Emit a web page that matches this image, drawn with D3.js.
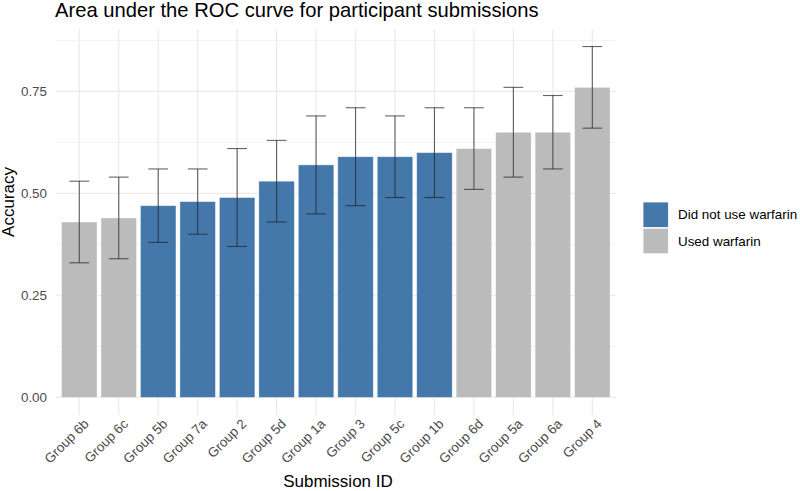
<!DOCTYPE html>
<html>
<head>
<meta charset="utf-8">
<script src="https://cdn.jsdelivr.net/npm/d3@7"></script>
<style>
  body { margin: 0; background: #fff; }
  text { font-family: "Liberation Sans", Arial, Helvetica, sans-serif; }
</style>
</head>
<body>
<svg id="chart" width="800" height="491"></svg>
<script>
const categories = ["Group 6b","Group 6c","Group 5b","Group 7a","Group 2","Group 5d","Group 1a","Group 3","Group 5c","Group 1b","Group 6d","Group 5a","Group 6a","Group 4"];
const accuracy   = [0.43, 0.44, 0.47, 0.48, 0.49, 0.53, 0.57, 0.59, 0.59, 0.60, 0.61, 0.65, 0.65, 0.76];
const lower      = [0.33, 0.34, 0.38, 0.40, 0.37, 0.43, 0.45, 0.47, 0.49, 0.49, 0.51, 0.54, 0.56, 0.66];
const upper      = [0.53, 0.54, 0.56, 0.56, 0.61, 0.63, 0.69, 0.71, 0.69, 0.71, 0.71, 0.76, 0.74, 0.86];
const warfarin   = ["Used warfarin","Used warfarin","Did not use warfarin","Did not use warfarin","Did not use warfarin","Did not use warfarin","Did not use warfarin","Did not use warfarin","Did not use warfarin","Did not use warfarin","Used warfarin","Used warfarin","Used warfarin","Used warfarin"];
const legendLabels = ["Did not use warfarin","Used warfarin"];
const legendColors = ["#4477AA","#BBBBBB"];
const yTicks = [0, 0.25, 0.5, 0.75];
const yMinor = [0.125, 0.375, 0.625, 0.875];

const data = categories.map((c,i)=>({cat:c, v:accuracy[i], lo:lower[i], hi:upper[i], g:warfarin[i]}));

const svg = d3.select("#chart");
const P = {left: 55.6, right: 616, top: 29, bottom: 415};

const yMax = d3.max(upper);
const pad = yMax * 0.05;
const y = d3.scaleLinear().domain([-pad, yMax + pad]).range([P.bottom, P.top]);
const step = (P.right - P.left) / (categories.length - 1 + 1.2);
const xc = d3.scalePoint().domain(categories).range([P.left + 0.6*step, P.right - 0.6*step]);
const barW = 0.9 * step;
const capW = 0.5 * step;
const color = d3.scaleOrdinal().domain(legendLabels).range(legendColors);

// grid
const g = svg.append("g");
g.selectAll(".ymin").data(yMinor).join("line")
  .attr("x1", P.left).attr("x2", P.right).attr("y1", d=>y(d)).attr("y2", d=>y(d))
  .attr("stroke", "#EDEDED").attr("stroke-width", 0.7);
g.selectAll(".ymaj").data(yTicks).join("line")
  .attr("x1", P.left).attr("x2", P.right).attr("y1", d=>y(d)).attr("y2", d=>y(d))
  .attr("stroke", "#EBEBEB").attr("stroke-width", 1.3);
g.selectAll(".xmaj").data(categories).join("line")
  .attr("x1", d=>xc(d)).attr("x2", d=>xc(d)).attr("y1", P.top).attr("y2", P.bottom)
  .attr("stroke", "#EBEBEB").attr("stroke-width", 1.3);

// bars
svg.append("g").selectAll("rect").data(data).join("rect")
  .attr("x", d=>xc(d.cat) - barW/2).attr("width", barW)
  .attr("y", d=>y(d.v)).attr("height", d=>y(0) - y(d.v))
  .attr("fill", d=>color(d.g))
  .attr("stroke", "#ffffff").attr("stroke-opacity", 0.5).attr("stroke-width", 0.8);

// error bars
const eb = svg.append("g").attr("stroke", "#222").attr("stroke-opacity", 0.7).attr("stroke-width", 1.1).attr("fill","none");
eb.selectAll(".v").data(data).join("line")
  .attr("x1", d=>xc(d.cat)).attr("x2", d=>xc(d.cat)).attr("y1", d=>y(d.lo)).attr("y2", d=>y(d.hi));
eb.selectAll(".lo").data(data).join("line")
  .attr("x1", d=>xc(d.cat)-capW/2).attr("x2", d=>xc(d.cat)+capW/2).attr("y1", d=>y(d.lo)).attr("y2", d=>y(d.lo));
eb.selectAll(".hi").data(data).join("line")
  .attr("x1", d=>xc(d.cat)-capW/2).attr("x2", d=>xc(d.cat)+capW/2).attr("y1", d=>y(d.hi)).attr("y2", d=>y(d.hi));

// y axis (labels only)
const yAxis = svg.append("g").attr("transform", `translate(${P.left},0)`)
  .call(d3.axisLeft(y).tickValues(yTicks).tickFormat(d3.format(".2f")).tickSize(0).tickPadding(8.6));
yAxis.select(".domain").remove();
yAxis.selectAll("text").attr("font-size", 13.4).attr("fill", "#4D4D4D")
  .attr("font-family", '"Liberation Sans", Arial, sans-serif');

// x axis (labels only)
const xAxis = svg.append("g").attr("transform", `translate(0,${P.bottom})`)
  .call(d3.axisBottom(xc).tickSize(0));
xAxis.select(".domain").remove();
xAxis.selectAll("text")
  .attr("font-size", 13.4).attr("fill", "#4D4D4D")
  .attr("font-family", '"Liberation Sans", Arial, sans-serif')
  .attr("text-anchor", "end")
  .attr("y", 0).attr("dy", "0.7em")
  .attr("transform", "translate(3,3) rotate(-45)");

// axis titles
svg.append("text").attr("x", 338).attr("y", 487).attr("text-anchor","middle")
  .attr("font-size", 17).attr("fill", "#000").text("Submission ID");
svg.append("text").attr("transform", `translate(14,202) rotate(-90)`)
  .attr("text-anchor","middle").attr("font-size", 17).attr("fill", "#000").text("Accuracy");

// title
svg.append("text").attr("x", 55).attr("y", 17).attr("font-size", 20.2).attr("fill", "#000")
  .text("Area under the ROC curve for participant submissions");

// legend
const lg = svg.append("g");
lg.selectAll("rect").data(legendLabels).join("rect")
  .attr("x", 643).attr("y", (d,i)=>202 + i*26.2).attr("width", 25.5).attr("height", 25.6)
  .attr("fill", d=>color(d)).attr("stroke", "#fff").attr("stroke-width", 0.8);
lg.selectAll("text").data(legendLabels).join("text")
  .attr("x", 678).attr("y", (d,i)=>202 + i*26.2 + 12.8).attr("dy", "0.35em")
  .attr("font-size", 13.4).attr("fill", "#000").text(d=>d);
</script>
</body>
</html>
